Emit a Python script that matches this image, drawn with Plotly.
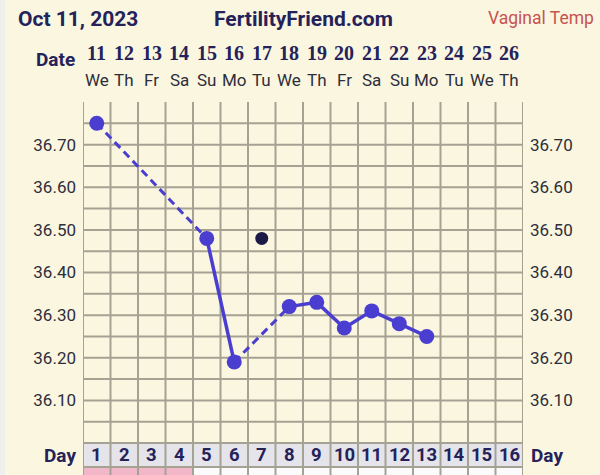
import plotly.graph_objects as go

# ---------------- data ----------------
cycle_days = list(range(1, 17))
dates = ["11", "12", "13", "14", "15", "16", "17", "18", "19", "20",
         "21", "22", "23", "24", "25", "26"]
weekdays = ["We", "Th", "Fr", "Sa", "Su", "Mo", "Tu", "We", "Th", "Fr",
            "Sa", "Su", "Mo", "Tu", "We", "Th"]
temps = [36.75, None, None, None, 36.48, 36.19, 36.48, 36.32, 36.33, 36.27,
         36.31, 36.28, 36.25, None, None, None]
excluded = [False, False, False, False, False, False, True, False, False, False,
            False, False, False, False, False, False]
menses = [True, True, True, True, False, False, False, False, False, False,
          False, False, False, False, False, False]
ytick_vals = [36.10, 36.20, 36.30, 36.40, 36.50, 36.60, 36.70]
ytick_text = ["36.10", "36.20", "36.30", "36.40", "36.50", "36.60", "36.70"]
chart_date = "Oct 11, 2023"
site_name = "FertilityFriend.com"
temp_kind = "Vaginal Temp"
row_label = "Date"
day_label = "Day"

# ---------------- layout geometry ----------------
W, H = 600, 475
ML, MR, MT, MB = 83, 77, 102, 0
PW, PH = W - ML - MR, H - MT - MB
Y_TOP, Y_BOT = 36.80, 35.925
PXPD = PH / (Y_TOP - Y_BOT)


def py(px):  # pixel row -> data y
    return Y_TOP - (px - MT) / PXPD


def paper_x(px):
    return (px - ML) / PW


def paper_y(px):
    return (H - MB - px) / PH


ROW_TOP = 36.00
ROW_BOT = py(467)
ROW2_TOP = py(468)

BG = "#faf6e0"
GRID = "#a6a293"
NAVY = "#25225a"
BLUE = "#4a3ed0"
DARK = "#1c1947"
TXT = "#2e2e3a"

# ---------------- line segments ----------------
valid = [(d, t) for d, t, e in zip(cycle_days, temps, excluded) if t is not None and not e]
solid_x, solid_y, dash_x, dash_y = [], [], [], []
for (d0, t0), (d1, t1) in zip(valid[:-1], valid[1:]):
    if d1 - d0 == 1:
        solid_x += [d0, d1, None]
        solid_y += [t0, t1, None]
    else:
        dash_x += [d0, d1, None]
        dash_y += [t0, t1, None]

fig = go.Figure()
fig.add_trace(go.Scatter(x=dash_x, y=dash_y, mode="lines",
                         line=dict(color=BLUE, width=3, dash="8px,5px"),
                         hoverinfo="skip", showlegend=False))
fig.add_trace(go.Scatter(x=solid_x, y=solid_y, mode="lines",
                         line=dict(color=BLUE, width=3.5),
                         hoverinfo="skip", showlegend=False))
fig.add_trace(go.Scatter(x=[d for d, _ in valid], y=[t for _, t in valid], mode="markers",
                         marker=dict(color=BLUE, size=15),
                         showlegend=False))
fig.add_trace(go.Scatter(x=[d for d, t, e in zip(cycle_days, temps, excluded) if e],
                         y=[t for d, t, e in zip(cycle_days, temps, excluded) if e],
                         mode="markers", marker=dict(color=DARK, size=13),
                         showlegend=False))
fig.add_trace(go.Scatter(x=[1], y=[None], yaxis="y2", showlegend=False, hoverinfo="skip"))

# ---------------- grid shapes ----------------
shapes = []
shapes.append(dict(type="rect", xref="paper", yref="paper", x0=paper_x(0), x1=paper_x(5),
                   y0=paper_y(H), y1=paper_y(0), fillcolor="#efefec", line_width=0, layer="below"))
shapes.append(dict(type="rect", xref="x", yref="y", x0=0.5, x1=16.5, y0=ROW_BOT, y1=ROW_TOP,
                   fillcolor="#e4e4ea", line_width=0, layer="below"))
for d, m in zip(cycle_days, menses):
    shapes.append(dict(type="rect", xref="x", yref="y", x0=d - 0.5, x1=d + 0.5,
                       y0=Y_BOT, y1=ROW2_TOP, fillcolor="#f2b6c9" if m else "#fbfbfb",
                       line_width=0, layer="below"))
n_h = int(round((36.75 - ROW_TOP) / 0.05))
for i in range(n_h + 1):
    yv = ROW_TOP + i * 0.05
    shapes.append(dict(type="line", xref="x", yref="y", x0=0.5, x1=16.5, y0=yv, y1=yv,
                       line=dict(color=GRID, width=2), layer="below"))
shapes.append(dict(type="line", xref="x", yref="y", x0=0.5, x1=16.5, y0=ROW_BOT, y1=ROW_BOT,
                   line=dict(color=GRID, width=2), layer="below"))
for k in range(len(cycle_days) + 1):
    xv = k + 0.5
    shapes.append(dict(type="line", xref="x", yref="y", x0=xv, x1=xv, y0=Y_BOT, y1=Y_TOP,
                       line=dict(color=GRID, width=2), layer="below"))

# ---------------- annotations ----------------
ann = []
ann.append(dict(text=f"<b>{chart_date}</b>", xref="paper", yref="paper", x=paper_x(16),
                y=paper_y(19), xanchor="left", yanchor="middle", showarrow=False,
                font=dict(family="Roboto", size=21, color=NAVY)))
ann.append(dict(text=f"<b>{site_name}</b>", xref="paper", yref="paper", x=paper_x(303),
                y=paper_y(19), xanchor="center", yanchor="middle", showarrow=False,
                font=dict(family="Roboto", size=21, color=NAVY)))
ann.append(dict(text=temp_kind, xref="paper", yref="paper", x=paper_x(596),
                y=paper_y(18), xanchor="right", yanchor="middle", showarrow=False,
                font=dict(family="Roboto", size=17.5, color="#c75350")))
ann.append(dict(text=f"<b>{row_label}</b>", xref="paper", yref="paper", x=paper_x(77),
                y=paper_y(60), xanchor="right", yanchor="middle", showarrow=False,
                font=dict(family="Roboto", size=19, color=NAVY)))
ann.append(dict(text=f"<b>{day_label}</b>", xref="paper", yref="paper", x=paper_x(78),
                y=paper_y(455), xanchor="right", yanchor="middle", showarrow=False,
                font=dict(family="Roboto", size=19, color=NAVY)))
ann.append(dict(text=f"<b>{day_label}</b>", xref="paper", yref="paper", x=paper_x(529),
                y=paper_y(455), xanchor="left", yanchor="middle", showarrow=False,
                font=dict(family="Roboto", size=19, color=NAVY)))
for d, dt, wd in zip(cycle_days, dates, weekdays):
    ann.append(dict(text=f"<b>{dt}</b>", xref="x", yref="paper", x=d, y=paper_y(53),
                    xanchor="center", yanchor="middle", showarrow=False,
                    font=dict(family="Liberation Serif", size=20, color=NAVY)))
    ann.append(dict(text=wd, xref="x", yref="paper", x=d, y=paper_y(80),
                    xanchor="center", yanchor="middle", showarrow=False,
                    font=dict(family="Roboto", size=17, color=TXT)))
    ann.append(dict(text=f"<b>{d}</b>", xref="x", yref="y", x=d, y=(ROW_TOP + ROW_BOT) / 2,
                    xanchor="center", yanchor="middle", showarrow=False,
                    font=dict(family="Roboto", size=18.5, color=NAVY)))

axis_y = dict(range=[Y_BOT, Y_TOP], tickvals=ytick_vals, ticktext=ytick_text,
              showgrid=False, zeroline=False, showline=False, ticks="",
              ticklabelstandoff=6, tickfont=dict(family="Roboto", size=17, color=TXT),
              fixedrange=True)

fig.update_layout(
    width=W, height=H,
    margin=dict(l=ML, r=MR, t=MT, b=MB, pad=0),
    paper_bgcolor=BG, plot_bgcolor=BG,
    xaxis=dict(range=[0.5, 16.5], showgrid=False, zeroline=False, showline=False,
               showticklabels=False, ticks="", fixedrange=True),
    yaxis=dict(**axis_y, side="left"),
    yaxis2=dict(**axis_y, side="right", overlaying="y"),
    shapes=shapes, annotations=ann, showlegend=False,
)

fig.write_html("out.html", config={"displayModeBar": False},
               post_script="document.body.style.margin='0';document.body.style.overflow='hidden';")
